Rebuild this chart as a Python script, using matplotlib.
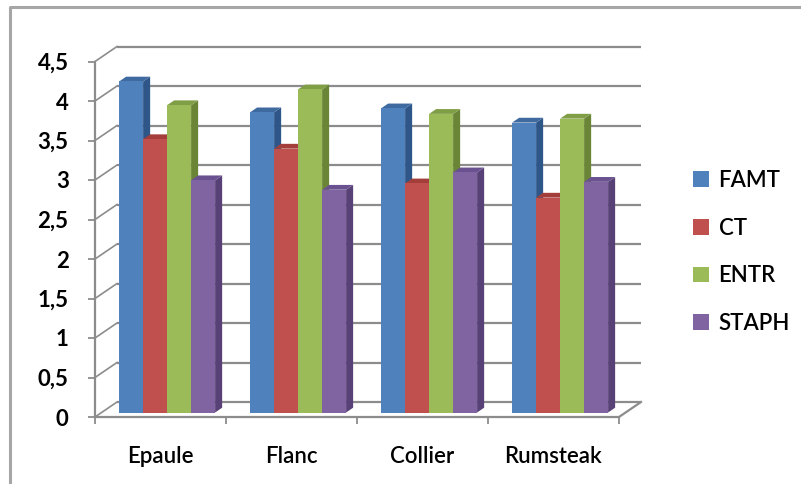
import matplotlib
matplotlib.use("Agg")
import matplotlib.pyplot as plt
from matplotlib.patches import Polygon
from matplotlib.lines import Line2D
from matplotlib.patches import Patch

# Data
categories = ["Epaule", "Flanc", "Collier", "Rumsteak"]
series = ["FAMT", "CT", "ENTR", "STAPH"]
famt = [4.19, 3.80, 3.85, 3.67]
ct = [3.46, 3.34, 2.90, 2.72]
entr = [3.89, 4.09, 3.78, 3.72]
staph = [2.94, 2.82, 3.04, 2.92]
values = [famt, ct, entr, staph]
yticks = [0, 0.5, 1, 1.5, 2, 2.5, 3, 3.5, 4, 4.5]

front = ["#4F81BD", "#C0504D", "#9BBB59", "#8064A2"]
side = ["#2F5689", "#8C3330", "#6B8537", "#574176"]
top = ["#3E6AA0", "#A33E3B", "#7F9E45", "#6A5290"]

W, H = 801, 484
plt.rcParams["font.family"] = ["Lato", "DejaVu Sans"]
plt.rcParams["font.weight"] = "semibold"
fig = plt.figure(figsize=(W / 100, H / 100), dpi=100)

# pixel geometry of the plotting box (front axis)
px_left, px_right_ax = 95, 645
px_zero, px_top_ax = 417, 38
ux = 131.0   # pixels per category
uy = 79.0    # pixels per unit value
xmin = -0.5
xmax = xmin + (px_right_ax - px_left) / ux
ymax = (px_zero - px_top_ax) / uy
ax = fig.add_axes([px_left / W, 1 - px_zero / H,
                   (px_right_ax - px_left) / W, (px_zero - px_top_ax) / H])
ax.set_xlim(xmin, xmax)
ax.set_ylim(0, ymax)

# depth of the oblique box
DX = 22.0 / ux
DY = 15.0 / uy
grid_col = "#8C8C8C"
xr = len(categories) - 0.5

# back wall gridlines and side wall diagonals
for y in yticks:
    ax.plot([xmin + DX, xr + DX], [y + DY, y + DY], color=grid_col, lw=1.6,
            zorder=1, clip_on=False, solid_capstyle="butt")
    ax.plot([xmin, xmin + DX], [y, y + DY], color=grid_col, lw=1.2,
            zorder=1, clip_on=False)
# floor right edge
ax.plot([xr, xr + DX], [0, DY], color=grid_col, lw=1.6, zorder=1, clip_on=False)

# bars with oblique sides and tops
bw = 24.0 / ux
f0 = 0.30          # depth of the front faces
bd = 0.32          # bar depth as a fraction of box depth
ddx, ddy = DX * bd, DY * bd
base = f0 * DY
z = 3
for i in range(len(categories)):
    for k, vals in enumerate(values):
        x0 = i + (k - 2) * bw + f0 * DX
        v = vals[i]
        ax.add_patch(Polygon([(x0 + bw, base), (x0 + bw + ddx, base + ddy),
                              (x0 + bw + ddx, base + v + ddy), (x0 + bw, base + v)],
                             closed=True, facecolor=side[k], edgecolor="none",
                             zorder=z, clip_on=False))
        ax.add_patch(Polygon([(x0, base + v), (x0 + ddx, base + v + ddy),
                              (x0 + bw + ddx, base + v + ddy), (x0 + bw, base + v)],
                             closed=True, facecolor=top[k], edgecolor="none",
                             zorder=z, clip_on=False))
        ax.bar(x0, v, width=bw, bottom=base, align="edge", color=front[k],
               edgecolor="none", zorder=z + 1, clip_on=False)
        z += 2

# axes styling
for s in ["top", "right"]:
    ax.spines[s].set_visible(False)
ax.spines["left"].set_bounds(0, 4.5)
ax.spines["bottom"].set_bounds(xmin, xr)
for s in ["left", "bottom"]:
    ax.spines[s].set_color(grid_col)
    ax.spines[s].set_linewidth(1.6)
    ax.spines[s].set_zorder(2)
ax.set_yticks(yticks)
ax.set_yticklabels([("%g" % t).replace(".", ",") for t in yticks],
                   fontweight="bold")
ax.set_xticks(range(len(categories)))
ax.set_xticklabels(categories)
ax.set_xticks([i - 0.5 for i in range(len(categories) + 1)], minor=True)
ax.tick_params(axis="y", length=5, width=1.3, color=grid_col, pad=14,
               labelsize=16)
ax.tick_params(axis="x", which="major", length=0, pad=21, labelsize=16)
ax.tick_params(axis="x", which="minor", length=5, width=1.3, color=grid_col)

# legend
handles = [Patch(facecolor=c, edgecolor="none") for c in front]
leg = fig.legend(handles, series, loc="upper left",
                 bbox_to_anchor=(673 / W, 1 - 150 / H), frameon=False,
                 fontsize=16, handlelength=0.7, handleheight=0.7,
                 handletextpad=0.45, labelspacing=1.2)

# outer chart border
fig.add_artist(Line2D([10 / W, 10 / W, 1.0], [0, 1 - 7 / H, 1 - 7 / H],
                      color="#A6A6A6", lw=2.2, transform=fig.transFigure))

fig.savefig("out.png", dpi=100)
